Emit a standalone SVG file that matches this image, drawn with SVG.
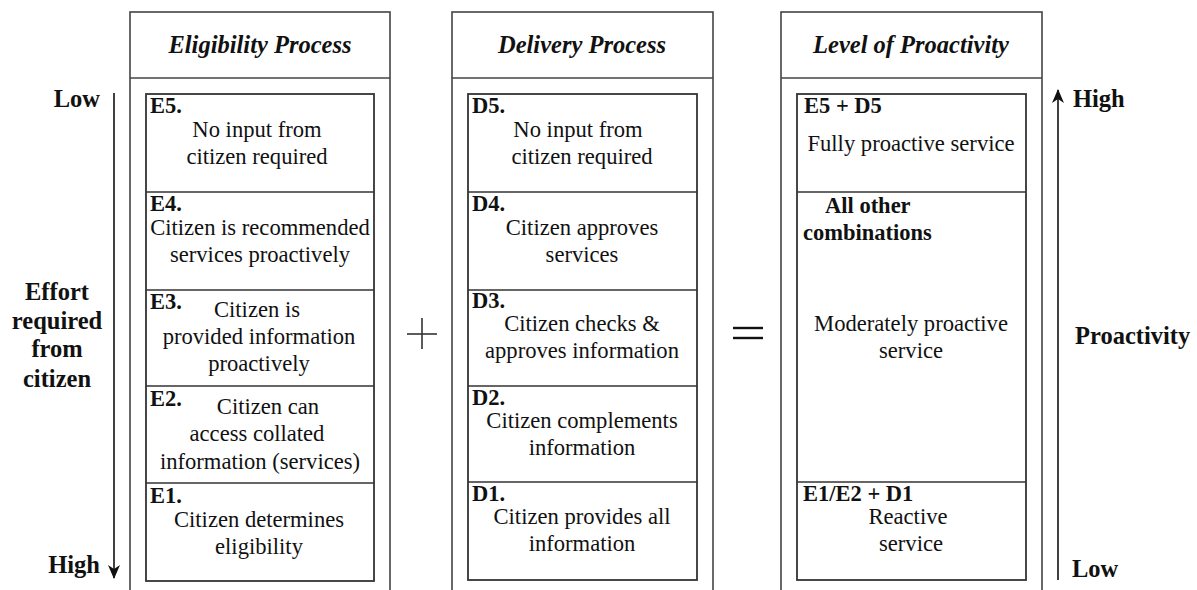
<svg xmlns="http://www.w3.org/2000/svg" width="1197" height="590" viewBox="0 0 1197 590">
  <style>
    text { font-family: "Liberation Serif", "Times New Roman", serif; fill: #111; }
    .hd { font-size: 24.5px; font-weight: bold; font-style: italic; text-anchor: middle; }
    .tx { font-size: 22.6px; text-anchor: middle; }
    .lb { font-size: 22.5px; font-weight: bold; }
    .ax { font-size: 24.5px; font-weight: bold; }
    .outer { fill: none; stroke: #444; stroke-width: 1.6; }
    .inner { fill: none; stroke: #333; stroke-width: 1.8; }
    .div { stroke: #333; stroke-width: 1.6; }
    .arrow { stroke: #111; stroke-width: 1.6; fill: none; }
  </style>
  <defs>
    <marker id="head" viewBox="0 0 14 12" refX="13" refY="6" markerWidth="14" markerHeight="12" markerUnits="userSpaceOnUse" orient="auto">
      <path d="M0,0 L14,6 L0,12 L4,6 Z" fill="#111"/>
    </marker>
  </defs>
  <rect width="1197" height="590" fill="#fff"/>

  <!-- Eligibility column -->
  <g id="eligibility">
    <rect class="outer" x="130" y="12" width="260" height="600"/>
    <line class="outer" x1="130" y1="78" x2="390" y2="78"/>
    <text class="hd" x="260" y="53">Eligibility Process</text>
    <rect class="inner" x="146" y="94" width="228" height="487"/>
    <line class="div" x1="146" y1="192" x2="374" y2="192"/>
    <line class="div" x1="146" y1="290" x2="374" y2="290"/>
    <line class="div" x1="146" y1="386" x2="374" y2="386"/>
    <line class="div" x1="146" y1="483" x2="374" y2="483"/>
  </g>
  <g id="E5">
    <text class="lb" x="150" y="113">E5.</text>
    <text class="tx" x="257" y="137">No input from</text>
    <text class="tx" x="257" y="164">citizen required</text>
  </g>
  <g id="E4">
    <text class="lb" x="150" y="211">E4.</text>
    <text class="tx" x="260" y="235">Citizen is recommended</text>
    <text class="tx" x="260" y="262">services proactively</text>
  </g>
  <g id="E3">
    <text class="lb" x="150" y="309">E3.</text>
    <text class="tx" x="257" y="317">Citizen is</text>
    <text class="tx" x="259" y="344">provided information</text>
    <text class="tx" x="259" y="371">proactively</text>
  </g>
  <g id="E2">
    <text class="lb" x="150" y="406">E2.</text>
    <text class="tx" x="268" y="414">Citizen can</text>
    <text class="tx" x="257" y="441">access collated</text>
    <text class="tx" x="260" y="469">information (services)</text>
  </g>
  <g id="E1">
    <text class="lb" x="150" y="503">E1.</text>
    <text class="tx" x="259" y="527">Citizen determines</text>
    <text class="tx" x="259" y="554">eligibility</text>
  </g>

  <!-- Delivery column -->
  <g id="delivery">
    <rect class="outer" x="452" y="12" width="261" height="600"/>
    <line class="outer" x1="452" y1="78" x2="713" y2="78"/>
    <text class="hd" x="582" y="53">Delivery Process</text>
    <rect class="inner" x="468" y="94" width="229" height="486"/>
    <line class="div" x1="468" y1="192" x2="697" y2="192"/>
    <line class="div" x1="468" y1="290" x2="697" y2="290"/>
    <line class="div" x1="468" y1="386" x2="697" y2="386"/>
    <line class="div" x1="468" y1="482" x2="697" y2="482"/>
  </g>
  <g id="D5">
    <text class="lb" x="472" y="113">D5.</text>
    <text class="tx" x="578" y="137">No input from</text>
    <text class="tx" x="582" y="164">citizen required</text>
  </g>
  <g id="D4">
    <text class="lb" x="472" y="211">D4.</text>
    <text class="tx" x="582" y="235">Citizen approves</text>
    <text class="tx" x="582" y="262">services</text>
  </g>
  <g id="D3">
    <text class="lb" x="472" y="308">D3.</text>
    <text class="tx" x="582" y="331">Citizen checks &amp;</text>
    <text class="tx" x="582" y="358">approves information</text>
  </g>
  <g id="D2">
    <text class="lb" x="472" y="405">D2.</text>
    <text class="tx" x="582" y="428">Citizen complements</text>
    <text class="tx" x="582" y="455">information</text>
  </g>
  <g id="D1">
    <text class="lb" x="472" y="501">D1.</text>
    <text class="tx" x="582" y="524">Citizen provides all</text>
    <text class="tx" x="582" y="551">information</text>
  </g>

  <!-- Proactivity column -->
  <g id="proactivity">
    <rect class="outer" x="781" y="12" width="261" height="600"/>
    <line class="outer" x1="781" y1="78" x2="1042" y2="78"/>
    <text class="hd" x="911" y="53">Level of Proactivity</text>
    <rect class="inner" x="797" y="94" width="229" height="486"/>
    <line class="div" x1="797" y1="192" x2="1026" y2="192"/>
    <line class="div" x1="797" y1="482" x2="1026" y2="482"/>
  </g>
  <g id="P-full">
    <text class="lb" x="804" y="113">E5 + D5</text>
    <text class="tx" x="911" y="151">Fully proactive service</text>
  </g>
  <g id="P-moderate">
    <text class="lb" x="825" y="213">All other</text>
    <text class="lb" x="803" y="240">combinations</text>
    <text class="tx" x="911" y="331">Moderately proactive</text>
    <text class="tx" x="911" y="358">service</text>
  </g>
  <g id="P-reactive">
    <text class="lb" x="803" y="501">E1/E2 + D1</text>
    <text class="tx" x="908" y="524">Reactive</text>
    <text class="tx" x="911" y="551">service</text>
  </g>

  <!-- Operators -->
  <g id="plus">
    <line x1="407" y1="334" x2="437" y2="334" stroke="#333" stroke-width="1.6"/>
    <line x1="422" y1="318" x2="422" y2="349" stroke="#333" stroke-width="1.6"/>
  </g>
  <g id="equals">
    <line x1="733" y1="328" x2="763" y2="328" stroke="#111" stroke-width="2.4"/>
    <line x1="733" y1="338" x2="763" y2="338" stroke="#111" stroke-width="2.4"/>
  </g>

  <!-- Axis labels -->
  <g id="effort-axis">
    <text class="ax" x="100" y="107" text-anchor="end">Low</text>
    <text class="ax" x="100" y="573" text-anchor="end">High</text>
    <text class="ax" x="57" y="300" text-anchor="middle">Effort</text>
    <text class="ax" x="57" y="329" text-anchor="middle">required</text>
    <text class="ax" x="57" y="357" text-anchor="middle">from</text>
    <text class="ax" x="57" y="387" text-anchor="middle">citizen</text>
  </g>
  <g id="proactivity-axis">
    <text class="ax" x="1073" y="107">High</text>
    <text class="ax" x="1072" y="577">Low</text>
    <text class="ax" x="1075" y="344">Proactivity</text>
  </g>

  <!-- Connectors -->
  <g id="connectors">
    <line class="arrow" x1="114" y1="93" x2="114" y2="578" marker-end="url(#head)"/>
    <line class="arrow" x1="1058" y1="580" x2="1058" y2="90" marker-end="url(#head)"/>
  </g>
</svg>
